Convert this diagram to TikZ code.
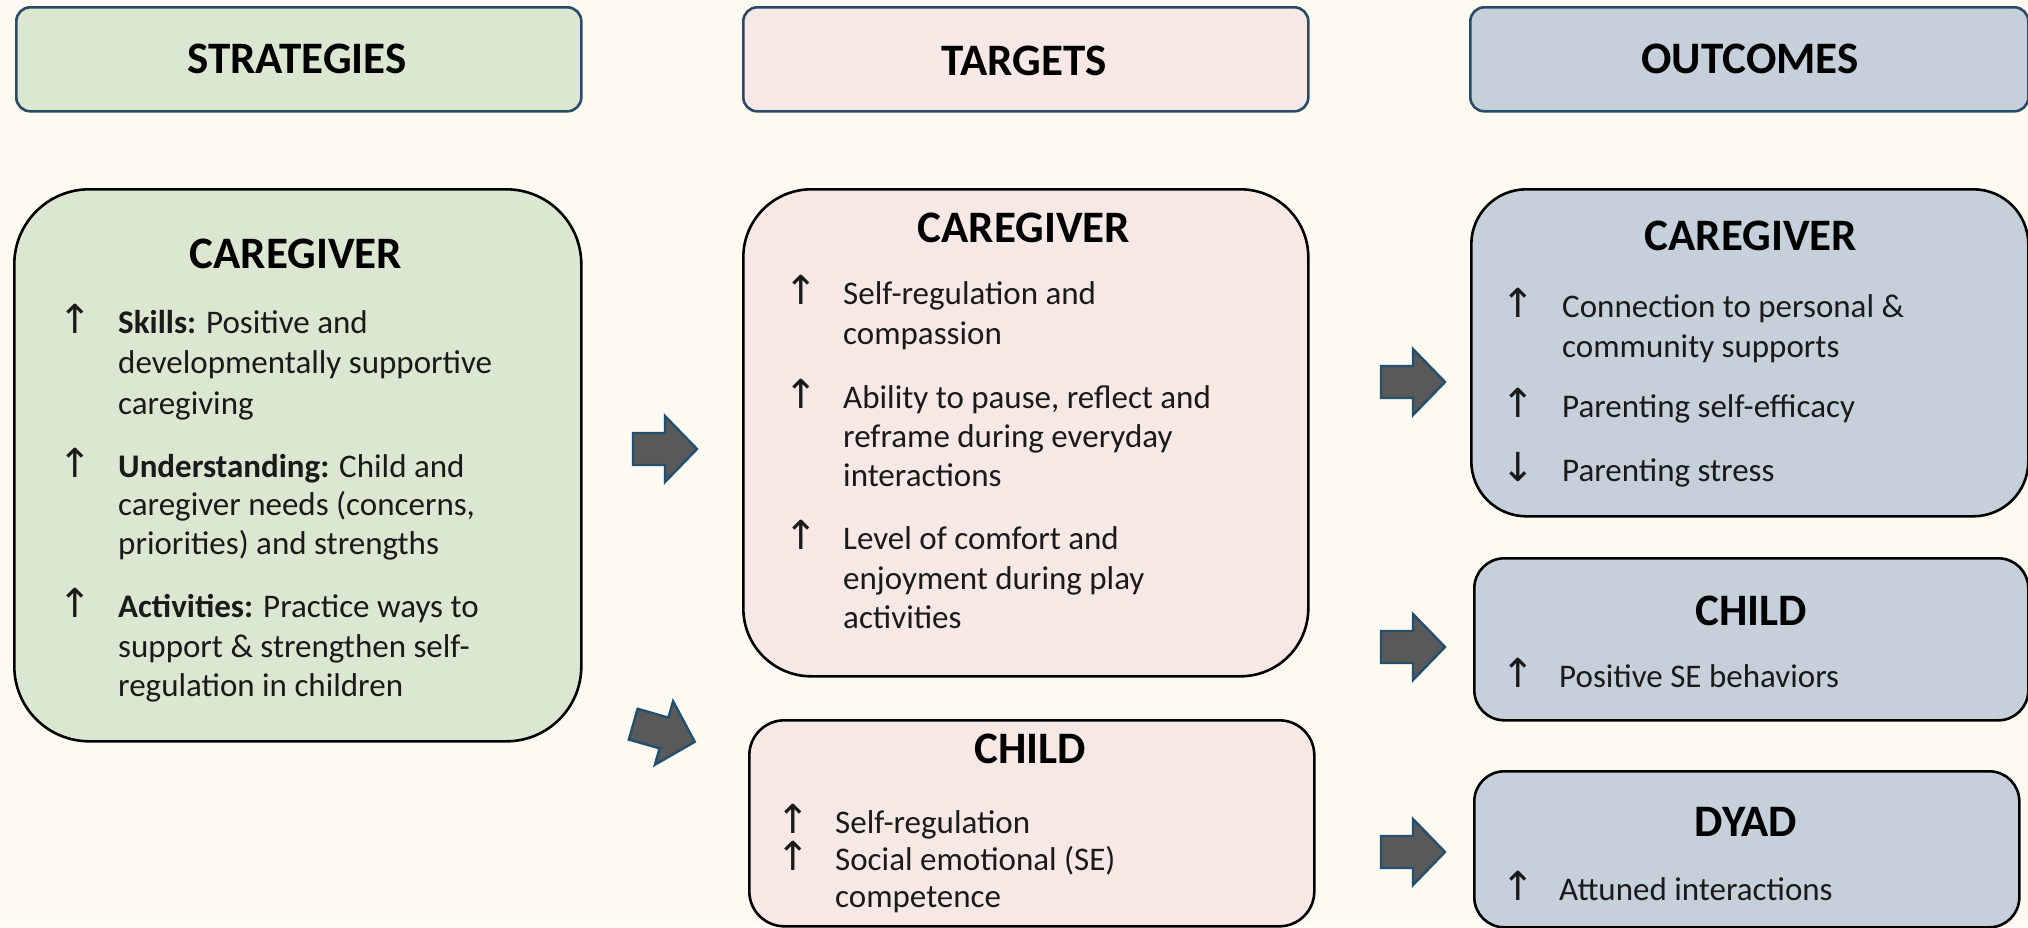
\documentclass[tikz,border=0pt]{standalone}
\usepackage{fontspec}
\setmainfont{Carlito}
\newfontfamily\arrowfont{DejaVu Sans}
\definecolor{bgc}{HTML}{FDFAF2}
\definecolor{gfill}{HTML}{DCE7D1}
\definecolor{pfill}{HTML}{F5E8E5}
\definecolor{bfill}{HTML}{C5D0DB}
\definecolor{hdrline}{HTML}{2A4B67}
\definecolor{arrline}{HTML}{24506F}
\definecolor{arrfill}{HTML}{595959}
\definecolor{txtc}{HTML}{1A1A1A}
\tikzset{
  hdr/.style={draw=hdrline, line width=2.6pt, rounded corners=14pt, anchor=north west, inner sep=0pt},
  cbox/.style={draw=black, line width=2.6pt, anchor=north west, inner sep=0pt},
  hdrtext/.style={inner sep=0pt, anchor=base, text=black, font=\bfseries\fontsize{45}{54}\selectfont},
  ttl/.style={inner sep=0pt, anchor=base, text=black, font=\bfseries\fontsize{45}{54}\selectfont},
  txt/.style={inner sep=0pt, anchor=base west, text=txtc, font=\fontsize{33}{40}\selectfont},
  ar/.style={inner sep=0pt, anchor=base, text=txtc, font=\arrowfont\fontsize{40}{48}\selectfont},
  barrow/.style={draw=arrline, fill=arrfill, line width=2.4pt, line join=miter}
}
\newcommand\blockarr[3]{\draw[barrow, shift={(#1,#2)}, rotate=#3] (-32,-16) -- (0,-16) -- (0,-33) -- (32,0) -- (0,33) -- (0,16) -- (-32,16) -- cycle;}
\begin{document}
\begin{tikzpicture}[x=1pt,y=-1pt]
\fill[bgc] (0,0) rectangle (2028,927);
\useasboundingbox (0,0) rectangle (2028,927);

% headers
\node[hdr, fill=gfill, minimum width=565pt, minimum height=104pt] (hs) at (15,6) {};
\node[hdr, fill=pfill, minimum width=565pt, minimum height=104pt] (ht) at (742,6) {};
\node[hdr, fill=bfill, minimum width=558pt, minimum height=104pt] (ho) at (1469,6) {};
\node[hdrtext] (hst) at (297,73) {STRATEGIES};
\node[hdrtext] (htt) at (1024,75) {TARGETS};
\node[hdrtext] (hot) at (1750,73) {OUTCOMES};

% boxes
\node[cbox, fill=gfill, rounded corners=75pt, minimum width=567pt, minimum height=552pt] (sc) at (13,188) {};
\node[cbox, fill=pfill, rounded corners=68pt, minimum width=565pt, minimum height=487pt] (tc) at (742,188) {};
\node[cbox, fill=pfill, rounded corners=35pt, minimum width=565pt, minimum height=206pt] (tk) at (748,719) {};
\node[cbox, fill=bfill, rounded corners=55pt, minimum width=557pt, minimum height=327pt] (oc) at (1470,188) {};
\node[cbox, fill=bfill, rounded corners=30pt, minimum width=554pt, minimum height=162pt] (ok) at (1473,557) {};
\node[cbox, fill=bfill, rounded corners=30pt, minimum width=545pt, minimum height=156pt] (od) at (1473,770) {};

% strategies caregiver
\node[ttl] (sct) at (296,268) {CAREGIVER};
\node[ar] (sa1) at (75,333) {↑};
\node[txt] (s1a) at (118,333) {\textbf{Skills:} Positive and};
\node[txt] (s1b) at (118,373) {developmentally supportive};
\node[txt] (s1c) at (118,414) {caregiving};
\node[ar] (sa2) at (75,477) {↑};
\node[txt] (s2a) at (118,477) {\textbf{Understanding:} Child and};
\node[txt] (s2b) at (118,515) {caregiver needs (concerns,};
\node[txt] (s2c) at (118,554) {priorities) and strengths};
\node[ar] (sa3) at (75,617) {↑};
\node[txt] (s3a) at (118,617) {\textbf{Activities:} Practice ways to};
\node[txt] (s3b) at (118,657) {support \& strengthen self-};
\node[txt] (s3c) at (118,696) {regulation in children};

% targets caregiver
\node[ttl] (tct) at (1024,242) {CAREGIVER};
\node[ar] (ta1) at (801,304) {↑};
\node[txt] (t1a) at (843,304) {Self-regulation and};
\node[txt] (t1b) at (843,344) {compassion};
\node[ar] (ta2) at (801,408) {↑};
\node[txt] (t2a) at (843,408) {Ability to pause, reflect and};
\node[txt] (t2b) at (843,447) {reframe during everyday};
\node[txt] (t2c) at (843,486) {interactions};
\node[ar] (ta3) at (801,549) {↑};
\node[txt] (t3a) at (843,549) {Level of comfort and};
\node[txt] (t3b) at (843,589) {enjoyment during play};
\node[txt] (t3c) at (843,628) {activities};

% targets child
\node[ttl] (tkt) at (1030,763) {CHILD};
\node[ar] (tka1) at (793,833) {↑};
\node[txt] (tk1) at (835,833) {Self-regulation};
\node[ar] (tka2) at (793,870) {↑};
\node[txt] (tk2a) at (835,870) {Social emotional (SE)};
\node[txt] (tk2b) at (835,907) {competence};

% outcomes caregiver
\node[ttl] (oct) at (1751,250) {CAREGIVER};
\node[ar] (oa1) at (1518,317) {↑};
\node[txt] (o1a) at (1562,317) {Connection to personal \&};
\node[txt] (o1b) at (1562,357) {community supports};
\node[ar] (oa2) at (1518,417) {↑};
\node[txt] (o2) at (1562,417) {Parenting self-efficacy};
\node[ar] (oa3) at (1518,481) {↓};
\node[txt] (o3) at (1562,481) {Parenting stress};

% outcomes child
\node[ttl] (okt) at (1751,625) {CHILD};
\node[ar] (oka) at (1518,687) {↑};
\node[txt] (ok1) at (1559,687) {Positive SE behaviors};

% dyad
\node[ttl] (odt) at (1746,836) {DYAD};
\node[ar] (oda) at (1518,900) {↑};
\node[txt] (od1) at (1559,900) {Attuned interactions};

% block arrows
\blockarr{665}{449}{0}
\blockarr{664}{733}{-16}
\blockarr{1413}{382}{0}
\blockarr{1413}{647}{0}
\blockarr{1413}{852}{0}
\end{tikzpicture}
\end{document}
